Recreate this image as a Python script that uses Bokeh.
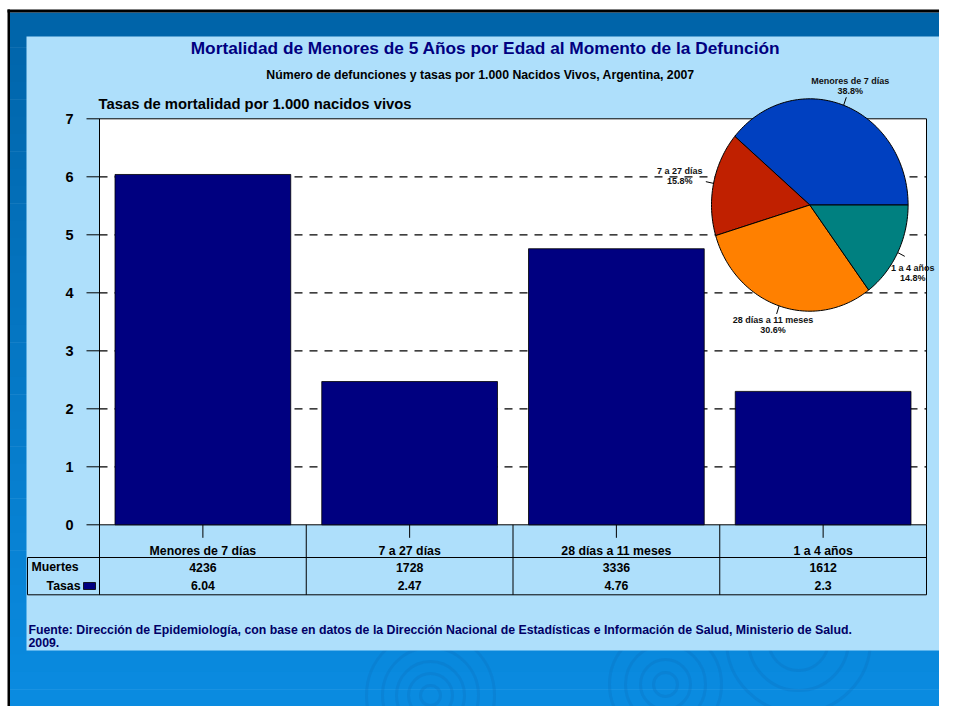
import math
import numpy as np
from bokeh.plotting import figure
from bokeh.models import Range1d
from bokeh.core.properties import value
from bokeh.embed import file_html
from bokeh.resources import INLINE

# ---------------- data ----------------
categories = ["Menores de 7 días", "7 a 27 días", "28 días a 11 meses", "1 a 4 años"]
muertes = [4236, 1728, 3336, 1612]
tasas = [6.04, 2.47, 4.76, 2.3]
y_ticks = [0, 1, 2, 3, 4, 5, 6, 7]
pie_colors = ["#0040C0", "#C02000", "#FF8000", "#008080"]

title_text = "Mortalidad de Menores de 5 Años por Edad al Momento de la Defunción"
subtitle_text = "Número de defunciones y tasas por 1.000 Nacidos Vivos, Argentina, 2007"
ytitle_text = "Tasas de mortalidad por 1.000 nacidos vivos"
row_labels = ["Muertes", "Tasas"]
footer_lines = [
    "Fuente: Dirección de Epidemiología, con base en datos de la Dirección Nacional de Estadísticas e Información de Salud, Ministerio de Salud.",
    "2009.",
]

# ---------------- layout (canvas pixels, y from top) ----------------
W, H = 939, 706
FONT = value("Liberation Sans")
PL, PR, PT, PB = 99.0, 926.0, 118.3, 524.3          # bar plot area
NCAT = len(categories)
CW = (PR - PL) / NCAT                                # px per category
YMAX = y_ticks[-1]
PPU = (PB - PT) / YMAX                               # px per rate unit
CX, CY, RX, RY = 809.3, 204.5, 98.3, 106.2           # pie ellipse

bx_start = -(PL + 0.5 * CW) / CW
rate_start = -(H - PB) / PPU

p = figure(width=W, height=H,
           x_range=Range1d(0, W), y_range=Range1d(H, 0),
           x_axis_type=None, y_axis_type=None,
           toolbar_location=None, output_backend="svg",
           min_border=0, outline_line_color=None)
p.background_fill_color = "white"
p.border_fill_color = "white"
p.extra_x_ranges = {
    "bx": Range1d(bx_start, bx_start + W / CW),
    "px": Range1d(-CX / RX, (W - CX) / RX),
}
p.extra_y_ranges = {
    "rate": Range1d(rate_start, rate_start + H / PPU),
    "py": Range1d(-(H - CY) / RY, CY / RY),
}

# ---------------- slide background ----------------
def mix(c1, c2, t):
    a = [int(c1[i:i + 2], 16) for i in (1, 3, 5)]
    b = [int(c2[i:i + 2], 16) for i in (1, 3, 5)]
    return "#%02x%02x%02x" % tuple(int(round(a[k] + (b[k] - a[k]) * t)) for k in range(3))

NB = 40
band_top = [12 + k * (H - 12) / NB for k in range(NB)]
band_bot = [12 + (k + 1) * (H - 12) / NB + 0.5 for k in range(NB)]
band_col = [mix("#0064A9", "#0A8BE0", k / (NB - 1)) for k in range(NB)]
p.quad(left=9, right=W, top=band_top, bottom=band_bot, fill_color=band_col, line_color=None)

# ripples
rx_c = [430, 430, 430, 430, 430, 665, 665, 665, 665, 798, 798, 798]
ry_c = [695, 695, 695, 695, 695, 684, 684, 684, 684, 640, 640, 640]
rr = [10, 22, 34, 48, 64, 12, 25, 40, 56, 30, 50, 72]
p.circle(x=rx_c, y=ry_c, radius=rr, fill_alpha=0, line_color="#0a66b0",
         line_alpha=0.2, line_width=3)

# black edges
p.quad(left=7, right=W, top=9, bottom=12, fill_color="black", line_color=None)
p.quad(left=7, right=9.5, top=9, bottom=H, fill_color="black", line_color=None)

# light panel
p.quad(left=26, right=W, top=36, bottom=650, fill_color="#AEDFFB", line_color=None)

# ---------------- bar chart ----------------
idx = list(range(NCAT))
p.quad(left=-0.5, right=NCAT - 0.5, bottom=0, top=YMAX, fill_color="white",
       line_color="black", line_width=1, x_range_name="bx", y_range_name="rate")
grid_y = y_ticks[1:-1]
p.segment(x0=[-0.5] * len(grid_y), x1=[NCAT - 0.5] * len(grid_y), y0=grid_y, y1=grid_y,
          line_color="black", line_width=1.3, line_dash="8 7",
          x_range_name="bx", y_range_name="rate")
p.vbar(x=idx, top=tasas, bottom=0, width=0.85, fill_color="#000080",
       line_color="black", line_width=0.8, x_range_name="bx", y_range_name="rate")

# y axis
p.segment(x0=[-0.5 - 13 / CW] * len(y_ticks), x1=[-0.5] * len(y_ticks), y0=y_ticks, y1=y_ticks,
          line_color="black", line_width=1, x_range_name="bx", y_range_name="rate")
p.segment(x0=[-0.5], x1=[-0.5], y0=[0], y1=[YMAX], line_color="black", line_width=1,
          x_range_name="bx", y_range_name="rate")
p.text(x=[-0.5] * len(y_ticks), y=y_ticks, text=[str(t) for t in y_ticks], x_offset=-26,
       text_font=FONT, text_font_style="bold", text_font_size="14.5px", text_color="black",
       text_align="right", text_baseline="middle", x_range_name="bx", y_range_name="rate")

# x axis ticks
p.segment(x0=idx, x1=idx, y0=[0] * NCAT, y1=[-13 / PPU] * NCAT, line_color="black",
          line_width=1, x_range_name="bx", y_range_name="rate")

# data table
seps = [i - 0.5 for i in range(NCAT + 1)]
p.segment(x0=seps, x1=seps, y0=[PB] * len(seps), y1=[594.3] * len(seps),
          line_color="black", line_width=1, x_range_name="bx")
p.segment(x0=[27, 27, 27], x1=[PR, PR, 27], y0=[557, 594.3, 557], y1=[557, 594.3, 594.3],
          line_color="black", line_width=1)
p.text(x=idx, y=[550] * NCAT, text=categories, text_font=FONT, text_font_style="bold",
       text_font_size="12.3px", text_color="black", text_align="center",
       text_baseline="middle", x_range_name="bx")
p.text(x=idx, y=[566.7] * NCAT, text=[str(m) for m in muertes], text_font=FONT,
       text_font_style="bold", text_font_size="12.3px", text_color="black",
       text_align="center", text_baseline="middle", x_range_name="bx")
p.text(x=idx, y=[585] * NCAT, text=[str(t) for t in tasas], text_font=FONT,
       text_font_style="bold", text_font_size="12.3px", text_color="black",
       text_align="center", text_baseline="middle", x_range_name="bx")
p.text(x=[31], y=[566.7], text=[row_labels[0]], text_font=FONT, text_font_style="bold",
       text_font_size="12.3px", text_color="black", text_align="left", text_baseline="middle")
p.text(x=[80], y=[585], text=[row_labels[1]], text_font=FONT, text_font_style="bold",
       text_font_size="12.3px", text_color="black", text_align="right", text_baseline="middle")
p.quad(left=83, right=95, top=582, bottom=589, fill_color="#000080", line_color="black",
       line_width=0.8)

# titles
p.text(x=[485], y=[47], text=[title_text], text_font=FONT, text_font_style="bold",
       text_font_size="17.3px", text_color="#000080", text_align="center", text_baseline="middle")
p.text(x=[480], y=[74], text=[subtitle_text], text_font=FONT, text_font_style="bold",
       text_font_size="12.3px", text_color="black", text_align="center", text_baseline="middle")
p.text(x=[98], y=[103], text=[ytitle_text], text_font=FONT, text_font_style="bold",
       text_font_size="14.8px", text_color="black", text_align="left", text_baseline="middle")
p.text(x=[28, 28], y=[629, 642], text=footer_lines, text_font=FONT, text_font_style="bold",
       text_font_size="12.3px", text_color="#000066", text_align="left", text_baseline="middle")

# ---------------- pie ----------------
total = float(sum(muertes))
fracs = [m / total for m in muertes]
xs, ys, mids = [], [], []
a0 = 0.0
for f in fracs:
    a1 = a0 + f * 2 * math.pi
    t = np.linspace(a0, a1, max(8, int(f * 240)))
    xs.append([0.0] + list(np.cos(t)))
    ys.append([0.0] + list(np.sin(t)))
    mids.append((a0 + a1) / 2)
    a0 = a1
p.patches(xs=xs, ys=ys, fill_color=pie_colors, line_color="black", line_width=1,
          x_range_name="px", y_range_name="py")

LF = 1.08
p.segment(x0=[math.cos(m) for m in mids], y0=[math.sin(m) for m in mids],
          x1=[LF * math.cos(m) for m in mids], y1=[LF * math.sin(m) for m in mids],
          line_color="black", line_width=1, x_range_name="px", y_range_name="py")


def inside(px_, py_):
    return ((px_ - CX) / RX) ** 2 + ((py_ - CY) / RY) ** 2 < 1.0


lx, ly = [], []
for name, m in zip(categories, mids):
    c, s = math.cos(m), math.sin(m)
    a = len(name) * 4.75 / 2
    b = 11.0
    tt = min(a / abs(c) if abs(c) > 1e-6 else 1e9, b / abs(s) if abs(s) > 1e-6 else 1e9)
    cx_px = CX + (LF * c) * RX + tt * c
    cy_px = CY - (LF * s) * RY - tt * s          # screen y (down)
    if cx_px + a > W - 3:                          # keep the label inside the canvas
        cx_px = W - 3 - a
        step = 1 if s < 0 else -1
        corner_y = (lambda yy: yy - b + 3) if s < 0 else (lambda yy: yy + b - 3)
        while inside(cx_px - a + 2, corner_y(cy_px)):
            cy_px += step
    lx.append((cx_px - CX) / RX)
    ly.append((CY - cy_px) / RY)
pcts = ["%.1f%%" % (f * 100) for f in fracs]
p.text(x=lx, y=ly, text=categories, y_offset=-5, text_font=FONT, text_font_style="bold",
       text_font_size="9px", text_color="#111111", text_align="center", text_baseline="middle",
       x_range_name="px", y_range_name="py")
p.text(x=lx, y=ly, text=pcts, y_offset=5, text_font=FONT, text_font_style="bold",
       text_font_size="9px", text_color="#111111", text_align="center", text_baseline="middle",
       x_range_name="px", y_range_name="py")

open("out.html", "w").write(file_html(p, INLINE))
